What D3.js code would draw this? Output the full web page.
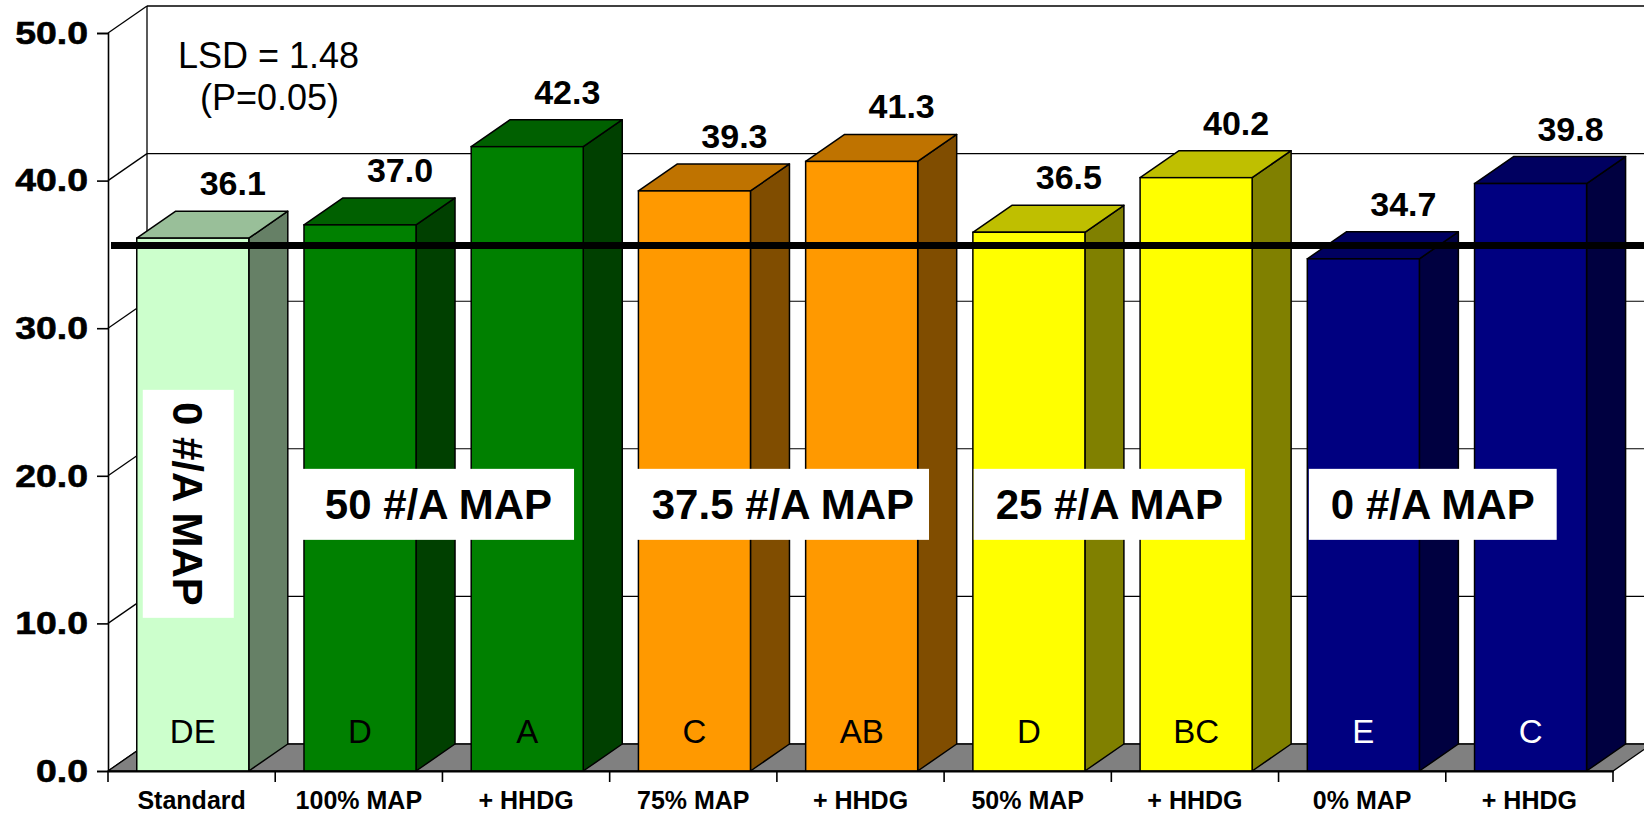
<!DOCTYPE html>
<html>
<head>
<meta charset="utf-8">
<script src="https://cdn.jsdelivr.net/npm/d3@7"></script>
<style>
  html, body { margin: 0; padding: 0; background: #ffffff; overflow: hidden; }
  svg { display: block; font-family: "Liberation Sans", Arial, sans-serif; }
</style>
</head>
<body>
<svg id="chart" width="1644" height="815"></svg>
<script>
// Treatments along the x axis
const categories = ["Standard", "100% MAP", "+ HHDG", "75% MAP", "+ HHDG ", "50% MAP", "+ HHDG  ", "0% MAP", "+ HHDG   "];
// Mean values per treatment
const values = [36.1, 37.0, 42.3, 39.3, 41.3, 36.5, 40.2, 34.7, 39.8];
// Mean separation letters
const letters = ["DE", "D", "A", "C", "AB", "D", "BC", "E", "C"];
// Colour family per treatment
const families = ["std", "green", "green", "orange", "orange", "yellow", "yellow", "navy", "navy"];
// Y axis ticks
const yTicks = [0, 10, 20, 30, 40, 50];
// Reference line level
const refLevel = 35.6;
// Group captions and the category boundary each one sits over
const groupCaptions = ["50 #/A MAP", "37.5 #/A MAP", "25 #/A MAP", "0 #/A MAP"];
const groupAt = [2, 4, 6, 8];
const verticalCaption = "0 #/A MAP";
const lsdLines = ["LSD = 1.48", "(P=0.05)"];

const palette = {
  std:    { front: "#CCFFCC", top: "#99BF99", side: "#668066", letter: "#000" },
  green:  { front: "#008000", top: "#006000", side: "#004000", letter: "#000" },
  orange: { front: "#FF9900", top: "#BF7300", side: "#804D00", letter: "#000" },
  yellow: { front: "#FFFF00", top: "#BFBF00", side: "#808000", letter: "#000" },
  navy:   { front: "#000080", top: "#000060", side: "#000040", letter: "#fff" }
};

const svg = d3.select("#chart");
const plotL = 108, plotR = 1613, plotT = 33, plotB = 771;
const DX = 39, DY = 27; // 3D depth offset

const x = d3.scaleBand().domain(categories).range([plotL, plotR]).padding(0);
const y = d3.scaleLinear().domain([0, 50]).range([plotB, plotT]);
const bw = x.bandwidth();
const barOff = bw * 0.172, barW = bw * 0.67;

// Back wall outline and gridlines
const g = svg.append("g");
g.append("line")
  .attr("x1", plotL + DX).attr("x2", plotL + DX)
  .attr("y1", y(50) - DY).attr("y2", y(0) - DY)
  .attr("stroke", "#000").attr("stroke-width", 1.3);
yTicks.forEach(t => {
  g.append("line")
    .attr("x1", plotL + DX).attr("x2", plotR + DX + 40)
    .attr("y1", y(t) - DY).attr("y2", y(t) - DY)
    .attr("stroke", "#000").attr("stroke-width", t === 50 ? 1.6 : 1.1);
  g.append("line")
    .attr("x1", plotL).attr("x2", plotL + DX)
    .attr("y1", y(t)).attr("y2", y(t) - DY)
    .attr("stroke", "#000").attr("stroke-width", 1.3);
});

// Floor
g.append("path")
  .attr("d", `M${plotL},${y(0)} L${plotR},${y(0)} L${plotR + DX},${y(0) - DY} L${plotL + DX},${y(0) - DY} Z`)
  .attr("fill", "#808080").attr("stroke", "#000").attr("stroke-width", 1.3);

// Bars
const data = categories.map((c, i) => ({ c, v: values[i], l: letters[i], col: palette[families[i]] }));
const bars = svg.append("g").selectAll("g").data(data).join("g");
bars.each(function(d) {
  const gb = d3.select(this);
  const x0 = x(d.c) + barOff, x1 = x0 + barW;
  const yt = y(d.v), yb = y(0);
  gb.append("path")
    .attr("d", `M${x1},${yb} L${x1 + DX},${yb - DY} L${x1 + DX},${yt - DY} L${x1},${yt} Z`)
    .attr("fill", d.col.side).attr("stroke", "#000").attr("stroke-width", 1.5).attr("stroke-linejoin", "round");
  gb.append("path")
    .attr("d", `M${x0},${yt} L${x0 + DX},${yt - DY} L${x1 + DX},${yt - DY} L${x1},${yt} Z`)
    .attr("fill", d.col.top).attr("stroke", "#000").attr("stroke-width", 1.5).attr("stroke-linejoin", "round");
  gb.append("rect")
    .attr("x", x0).attr("y", yt).attr("width", barW).attr("height", yb - yt)
    .attr("fill", d.col.front).attr("stroke", "#000").attr("stroke-width", 1.5);
  gb.append("text")
    .attr("x", x0 + barW / 2).attr("y", yb - 28)
    .attr("text-anchor", "middle").attr("font-size", 33)
    .attr("fill", d.col.letter).text(d.l);
});

// Reference line
svg.append("line")
  .attr("x1", plotL + 3).attr("x2", 1660)
  .attr("y1", y(refLevel)).attr("y2", y(refLevel))
  .attr("stroke", "#000").attr("stroke-width", 7);

// Value labels
svg.append("g").selectAll("text").data(data).join("text")
  .attr("x", d => x(d.c) + barOff + barW / 2 + 40)
  .attr("y", d => y(d.v) - DY - 16)
  .attr("text-anchor", "middle").attr("font-size", 34).attr("font-weight", "bold")
  .text(d => d3.format(".1f")(d.v));

// Y axis
const yAxis = svg.append("g").attr("transform", `translate(${plotL},0)`)
  .call(d3.axisLeft(y).tickValues(yTicks).tickSize(11).tickPadding(9).tickFormat(d3.format(".1f")));
yAxis.select(".domain").attr("stroke", "#000").attr("stroke-width", 1.6);
yAxis.selectAll(".tick line").attr("stroke", "#000").attr("stroke-width", 1.6);
yAxis.selectAll(".tick text")
  .attr("font-size", 32).attr("font-weight", "bold").attr("fill", "#000")
  .attr("font-family", "'Liberation Sans', Arial, sans-serif")
  .attr("stroke", "#000").attr("stroke-width", 0.6)
  .attr("x", -20 / 1.17).attr("transform", "scale(1.17,1)");

// X axis
const xAxis = svg.append("g").attr("transform", `translate(0,${plotB})`)
  .call(d3.axisBottom(x).tickSize(0).tickFormat(d => d.trim()));
xAxis.select(".domain").attr("stroke", "#000").attr("stroke-width", 2);
xAxis.selectAll(".tick text")
  .attr("y", 38).attr("dy", 0)
  .attr("font-size", 25).attr("font-weight", "bold").attr("fill", "#000")
  .attr("font-family", "'Liberation Sans', Arial, sans-serif");
// Tick marks between categories
const bounds = categories.map(c => x(c)).concat([x(categories[categories.length - 1]) + x.step()]);
xAxis.selectAll("line.bound").data(bounds).join("line").attr("class", "bound")
  .attr("x1", d => d).attr("x2", d => d).attr("y1", 0).attr("y2", 11)
  .attr("stroke", "#000").attr("stroke-width", 1.6);

// LSD note
svg.append("text").attr("x", 178).attr("y", 68).attr("font-size", 36).text(lsdLines[0]);
svg.append("text").attr("x", 200).attr("y", 110).attr("font-size", 36).text(lsdLines[1]);

// Group captions in white boxes
const capY = y(18.1);
const capShift = [-4, 6, -2, -13];
groupCaptions.forEach((txt, i) => {
  const cx = x(categories[groupAt[i]]) + capShift[i];
  const gg = svg.append("g");
  const rect = gg.append("rect").attr("fill", "#fff");
  const t = gg.append("text").attr("x", cx).attr("y", capY + 15)
    .attr("text-anchor", "middle").attr("font-size", 42).attr("font-weight", "bold").text(txt);
  const bb = t.node().getBBox();
  const padX = i === 1 ? 15 : 22;
  rect.attr("x", bb.x - padX).attr("width", bb.width + 2 * padX)
    .attr("y", capY - 35).attr("height", 71);
});

// Vertical caption over the standard bar
{
  const cx = x(categories[0]) + barOff + barW / 2 - 5;
  const cy = y(18.1);
  const gv = svg.append("g");
  gv.append("rect").attr("x", cx - 45).attr("y", cy - 114).attr("width", 91).attr("height", 228).attr("fill", "#fff");
  gv.append("text").attr("transform", `translate(${cx - 15},${cy}) rotate(90)`)
    .attr("text-anchor", "middle").attr("font-size", 42).attr("font-weight", "bold").text(verticalCaption);
}
</script>
</body>
</html>
